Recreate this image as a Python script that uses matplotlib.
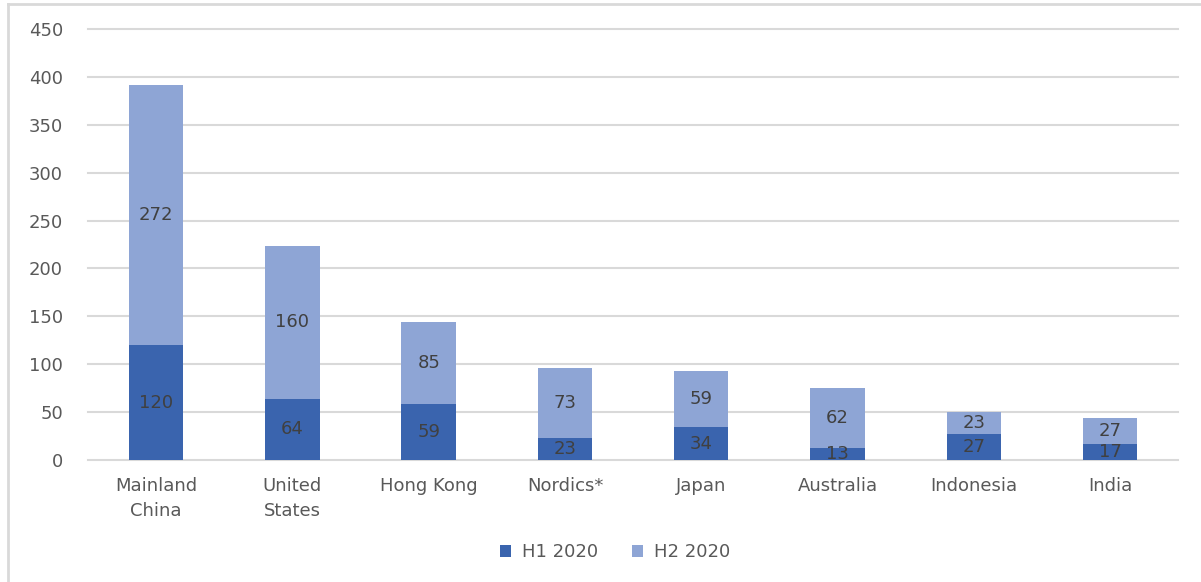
import matplotlib.pyplot as plt
import numpy as np
from matplotlib.lines import Line2D

countries = ['Mainland\nChina', 'United\nStates', 'Hong Kong', 'Nordics*', 'Japan',
             'Australia', 'Indonesia', 'India']
h1_2020 = [120, 64, 59, 23, 34, 13, 27, 17]
h2_2020 = [272, 160, 85, 73, 59, 62, 23, 27]

plt.rcParams['font.family'] = ['DejaVu Sans']
plt.rcParams['font.size'] = 13

fig = plt.figure(figsize=(12.01, 5.82), dpi=100)
ax = fig.add_axes([0.0733, 0.2096, 0.9077, 0.7404])

x = np.arange(len(countries))
b1 = ax.bar(x, h1_2020, width=0.4, color='#3A64AE', label='H1 2020', zorder=2)
b2 = ax.bar(x, h2_2020, width=0.4, bottom=h1_2020, color='#8EA5D5', label='H2 2020', zorder=2)
ax.bar_label(b1, label_type='center', color='#404040', fontsize=13)
ax.bar_label(b2, label_type='center', color='#404040', fontsize=13)

ax.set_xlim(-0.5, len(countries) - 0.5)
ax.set_ylim(0, 450)
ax.set_yticks(np.arange(0, 451, 50))
ax.set_xticks(x, countries, linespacing=1.5)
ax.grid(axis='y', color='#D9D9D9', lw=1.5, zorder=0)
# keep the gridlines at 0 and 450 from being half clipped
for gl in ax.get_ygridlines():
    gl.set_clip_on(False)
for s in ax.spines.values():
    s.set_visible(False)
ax.tick_params(length=0, colors='#595959', labelsize=13)
ax.tick_params(axis='y', pad=18)
ax.tick_params(axis='x', pad=12)

fig.legend(loc='center', bbox_to_anchor=(0.512, 0.051), ncol=2, frameon=False,
           fontsize=13, labelcolor='#595959', handlelength=0.6, handleheight=0.6,
           handletextpad=0.6, columnspacing=1.9)

# outer chart frame (top and left edges)
fig.add_artist(Line2D([8 / 1201, 1], [1 - 4 / 582, 1 - 4 / 582], color='#D9D9D9', lw=2))
fig.add_artist(Line2D([8 / 1201, 8 / 1201], [0, 1 - 4 / 582], color='#D9D9D9', lw=2))

fig.savefig('out.png', dpi=100)
